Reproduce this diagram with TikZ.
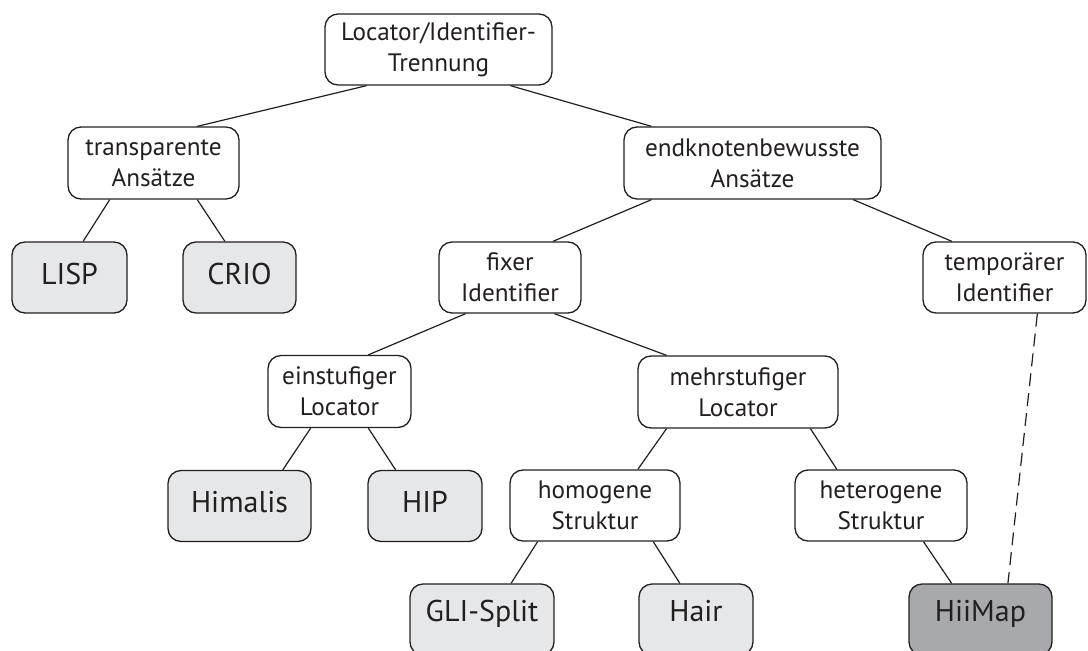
\documentclass[tikz,border=0pt]{standalone}
\usepackage{fontspec}
\setmainfont{PT Sans}
\usetikzlibrary{calc}
\definecolor{ink}{RGB}{35,31,32}
\definecolor{leaf}{RGB}{230,231,232}
\definecolor{leafdark}{RGB}{167,169,172}
\begin{document}
\begin{tikzpicture}[x=1pt,y=-1pt,
  box/.style={draw=ink, line width=1.3pt, rounded corners=13pt, align=center,
    inner sep=0pt, text=ink, font=\fontsize{25.2}{31}\selectfont, minimum height=71pt},
  leafbox/.style={box, fill=leaf, font=\fontsize{30}{36}\selectfont,
    text height=21pt, text depth=8pt},
  lowleaf/.style={leafbox, text depth=17pt},
  darkleaf/.style={lowleaf, fill=leafdark},
  link/.style={draw=ink, line width=1.2pt},
  weaklink/.style={link, dash pattern=on 13pt off 7pt}]
\useasboundingbox (0,0) rectangle (1088,651);
\clip (0,0) rectangle (1088,651);

% categories
\node[box, minimum width=227pt] (root) at (438.5,49.5) {Locator/Identifier-\\Trennung};
\node[box, minimum width=171pt, minimum height=72pt] (transp) at (153.5,163) {transparente\\Ansätze};
\node[box, minimum width=257pt, minimum height=72pt] (endk) at (752.5,163) {endknotenbewusste\\Ansätze};
\node[box, minimum width=142pt] (fixid) at (510,277.5) {fixer\\Identifier};
\node[box, minimum width=163pt] (tempid) at (1004.5,277.5) {temporärer\\Identifier};
\node[box, minimum width=143pt, minimum height=72pt] (einst) at (339.5,391.5) {einstufiger\\Locator};
\node[box, minimum width=200pt, minimum height=72pt] (mehrst) at (738,392) {mehrstufiger\\Locator};
\node[box, minimum width=170pt] (homog) at (595,505.5) {homogene\\Struktur};
\node[box, minimum width=172pt] (heterog) at (881,505.5) {heterogene\\Struktur};

% concrete approaches
\node[leafbox, minimum width=115pt] (lisp) at (69.5,277.5) {LISP};
\node[leafbox, minimum width=113pt] (crio) at (239.5,277.5) {CRIO};
\node[leafbox, minimum width=143pt] (himalis) at (239.5,506) {Himalis};
\node[leafbox, minimum width=114pt] (hip) at (425,506) {HIP};
\node[lowleaf, minimum width=144pt] (gli) at (482,619.5) {GLI-Split};
\node[lowleaf, minimum width=114pt] (hair) at (696,619.5) {Hair};
\node[darkleaf, minimum width=143pt] (hiimap) at (980.5,619.5) {HiiMap};

% tree edges: bottom edge of parent to top edge of child
\newcommand{\treeedge}[4]{%
  \draw[link] ($(#1.south west)!#2!(#1.south east)$) -- ($(#3.north west)!#4!(#3.north east)$);}
\treeedge{root}{0.185}{transp}{0.754}
\treeedge{root}{0.815}{endk}{0.109}
\treeedge{transp}{0.246}{lisp}{0.617}
\treeedge{transp}{0.754}{crio}{0.372}
\treeedge{endk}{0.109}{fixid}{0.80}
\treeedge{endk}{0.89}{tempid}{0.18}
\treeedge{fixid}{0.19}{einst}{0.70}
\treeedge{fixid}{0.81}{mehrst}{0.145}
\treeedge{einst}{0.30}{himalis}{0.80}
\treeedge{einst}{0.70}{hip}{0.245}
\treeedge{mehrst}{0.145}{homog}{0.75}
\treeedge{mehrst}{0.86}{heterog}{0.245}
\treeedge{homog}{0.165}{gli}{0.70}
\treeedge{homog}{0.84}{hair}{0.36}
\treeedge{heterog}{0.745}{hiimap}{0.30}

% HiiMap also uses temporary identifiers
\draw[weaklink] ($(tempid.south west)!0.70!(tempid.south east)$) -- ($(hiimap.north west)!0.69!(hiimap.north east)$);
\end{tikzpicture}
\end{document}
